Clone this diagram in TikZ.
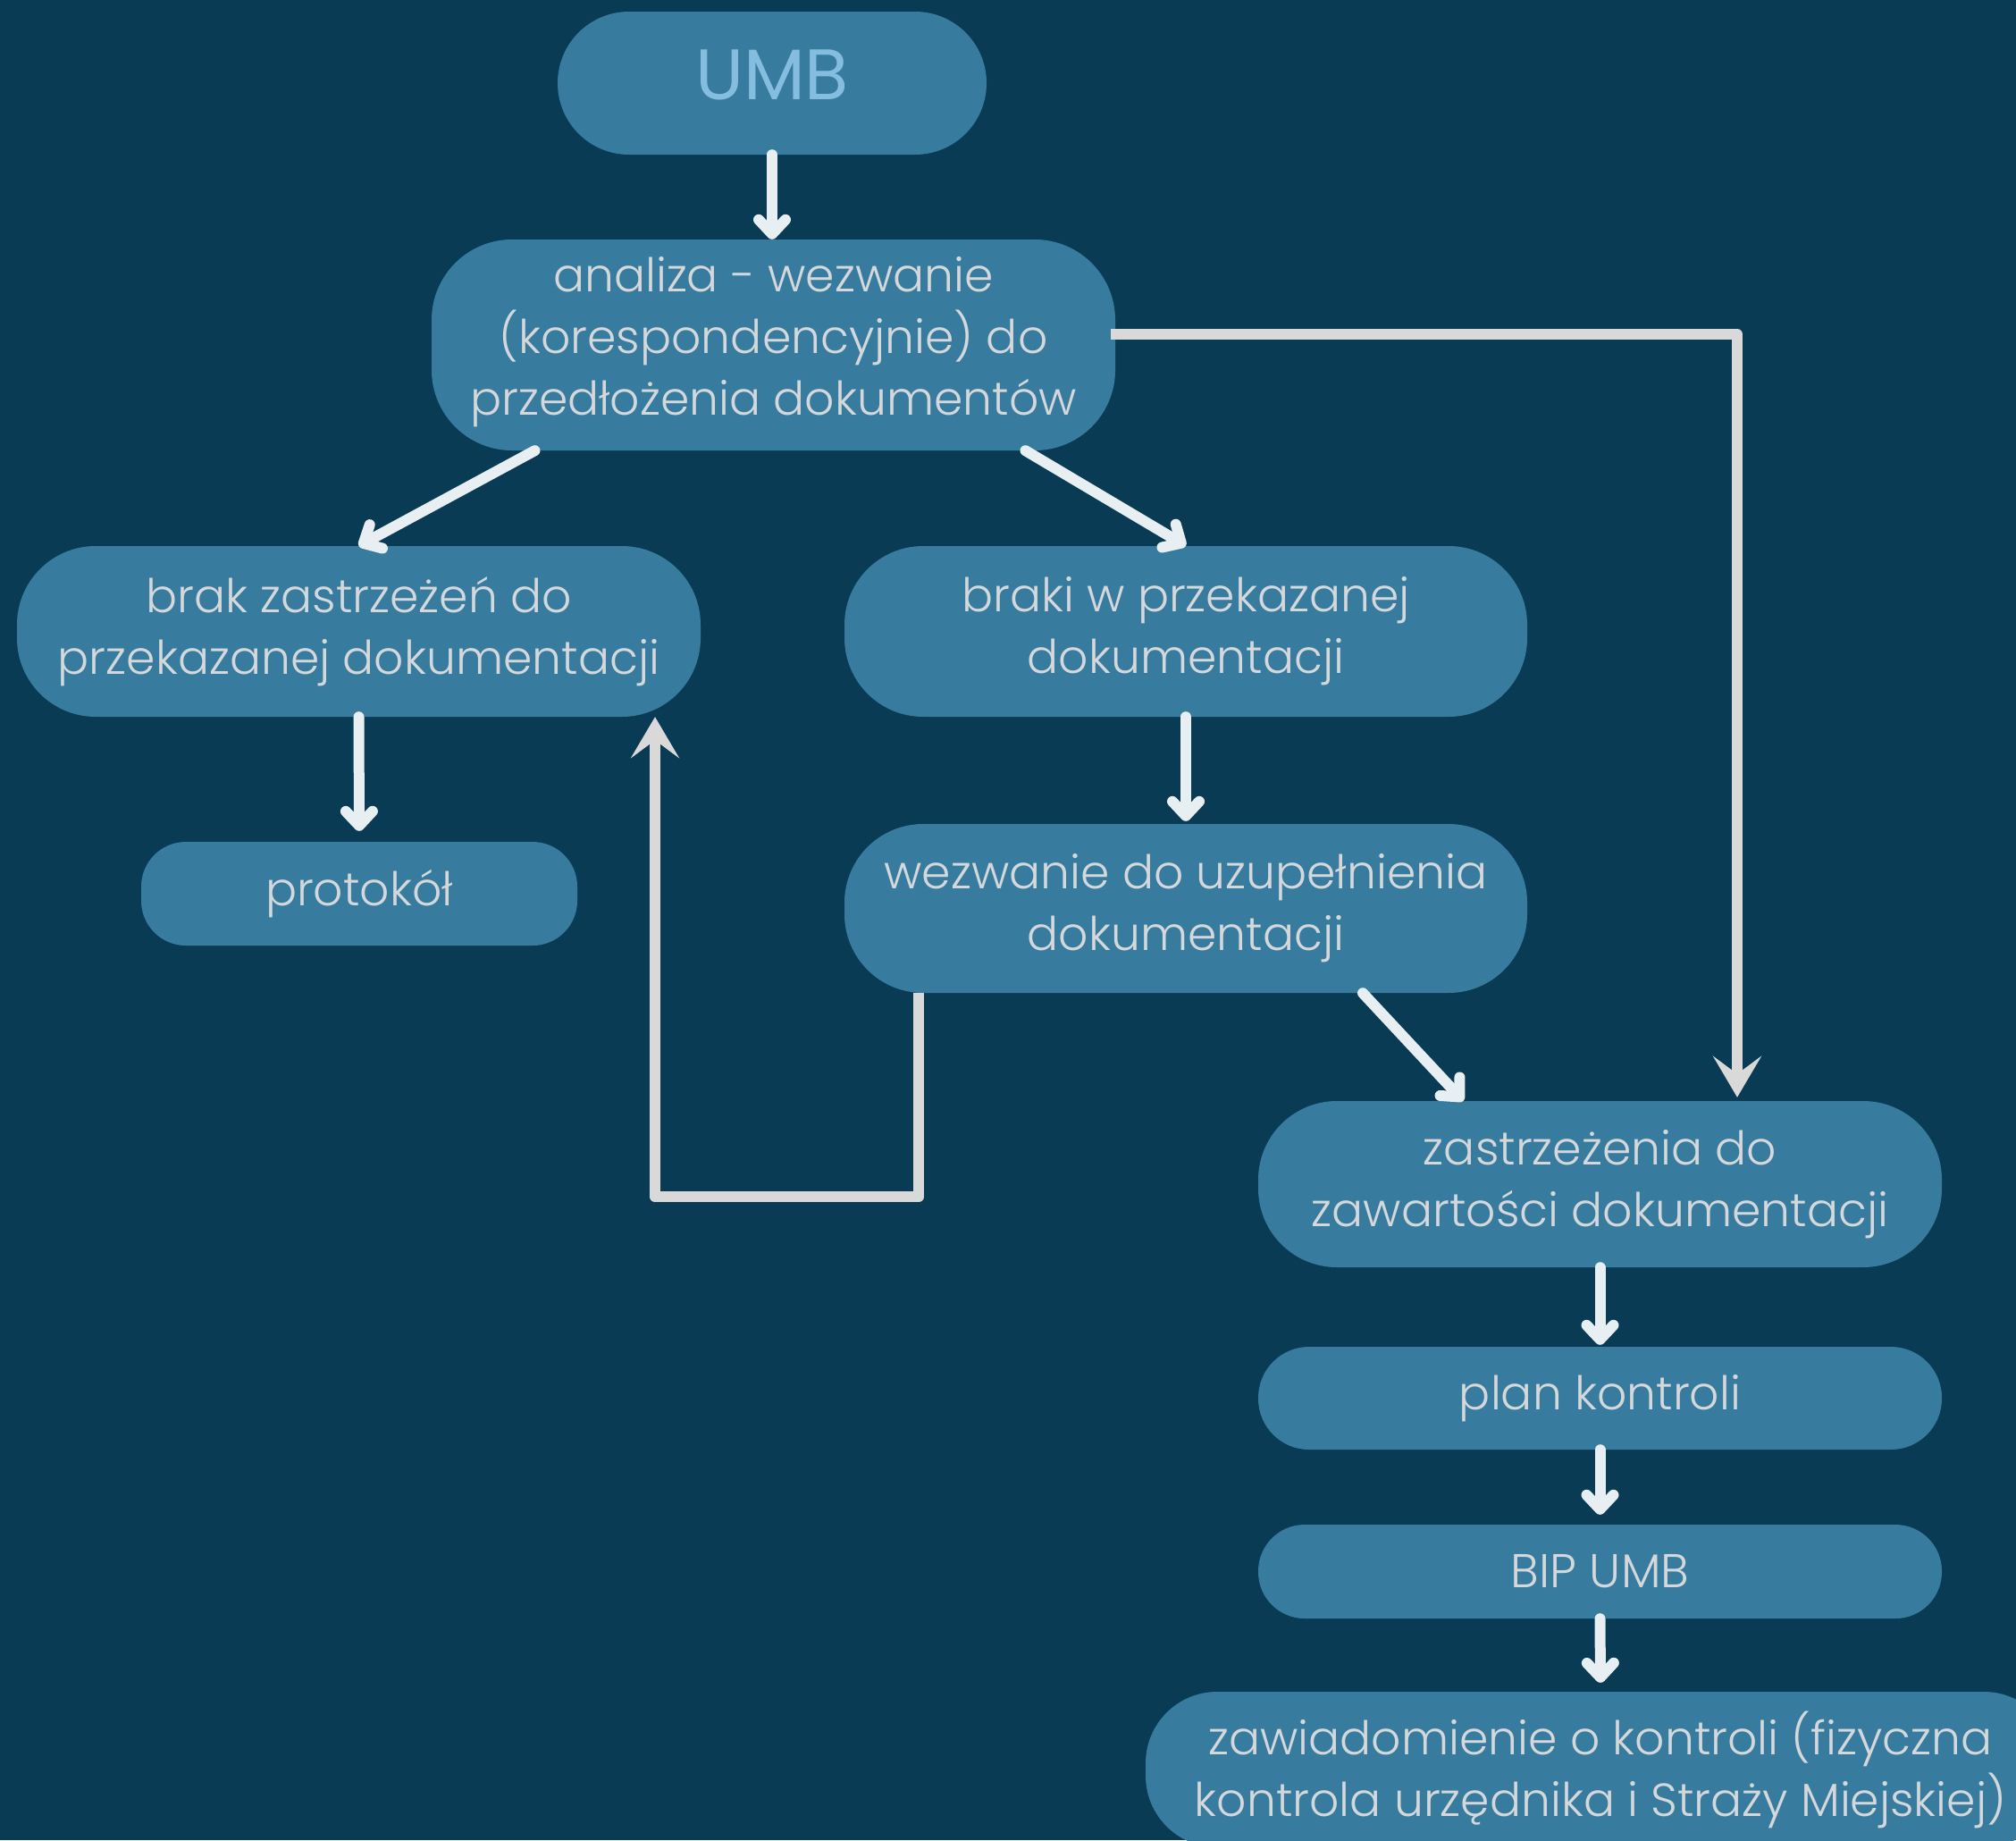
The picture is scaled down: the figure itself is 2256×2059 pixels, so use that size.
\documentclass[tikz,border=0pt]{standalone}
\usepackage{fontspec}
\IfFontExistsTF{Poppins Light}{\setmainfont{Poppins Light}}{%
  \IfFontExistsTF{Poppins-Light}{\setmainfont{Poppins-Light}}{\setmainfont{Poppins}}}
\newfontfamily\umbfont{Poppins}
\usetikzlibrary{arrows.meta}
\definecolor{bg}{HTML}{0A3B54}
\definecolor{nodefill}{HTML}{377C9F}
\definecolor{txt}{HTML}{D4D8DB}
\definecolor{umbtxt}{HTML}{85BDDF}
\definecolor{arrw}{HTML}{E8EFF2}
\definecolor{gline}{HTML}{D9D9D9}
\tikzset{
  box/.style={fill=nodefill, text=txt, align=center, inner sep=0pt,
    font=\fontsize{52}{69}\selectfont},
  warrow/.style={draw=arrw, line width=12pt, line cap=round,
    -{Straight Barb[length=16pt,width=30pt,line cap=round,line join=round]}},
  garrow/.style={draw=gline, line width=12pt, line join=round,
    -{Stealth[length=46pt,width=54pt,inset=20pt]}},
}
\begin{document}
\begin{tikzpicture}[x=1pt,y=-1pt]
\useasboundingbox (0,0) rectangle (2256,2059);
\clip (0,0) rectangle (2256,2059);
\fill[bg] (0,0) rectangle (2256,2059);

\node[box, minimum width=480pt, minimum height=160pt, rounded corners=80pt,
  text=umbtxt, font=\umbfont\fontsize{80}{80}\selectfont, text depth=19pt] (umb) at (864,93) {UMB};
\node[box, minimum width=765pt, minimum height=236pt, rounded corners=90pt, text depth=20pt] (analiza) at (865.5,386)
  {analiza - wezwanie\\(korespondencyjnie) do\\przedłożenia dokumentów};
\node[box, minimum width=765pt, minimum height=191pt, rounded corners=88pt] (brak) at (401.5,706.5)
  {brak zastrzeżeń do\\przekazanej dokumentacji};
\node[box, minimum width=764pt, minimum height=191pt, rounded corners=88pt] (braki) at (1327,706.5)
  {braki w przekazanej\\dokumentacji};
\node[box, minimum width=488pt, minimum height=116pt, rounded corners=50pt] (protokol) at (402,1000)
  {protokół};
\node[box, minimum width=764pt, minimum height=189pt, rounded corners=88pt] (wezwanie) at (1327,1016.5)
  {wezwanie do uzupełnienia\\dokumentacji};
\node[box, minimum width=765pt, minimum height=186pt, rounded corners=88pt] (zastrz) at (1790.5,1325)
  {zastrzeżenia do\\zawartości dokumentacji};
\node[box, minimum width=765pt, minimum height=115pt, rounded corners=57pt] (plan) at (1790.5,1564.5)
  {plan kontroli};
\node[box, minimum width=765pt, minimum height=105pt, rounded corners=52pt,
  font=\fontsize{53}{60}\selectfont] (bip) at (1790.5,1758.5) {BIP UMB};
\node[box, minimum width=1018pt, minimum height=174pt, rounded corners=80pt] (zaw) at (1791,1980)
  {zawiadomienie o kontroli (fizyczna\\kontrola urzędnika i Straży Miejskiej)};

\draw[warrow] (umb.south) -- (umb.south |- analiza.north);
\draw[warrow] ([xshift=-267pt]analiza.south) -- (brak.north);
\draw[warrow] ([xshift=282pt]analiza.south) -- (braki.north);
\draw[warrow] (brak.south) -- ([yshift=12pt]protokol.north);
\draw[warrow] (braki.south) -- ([yshift=3pt]wezwanie.north);
\draw[warrow] ([xshift=198pt]wezwanie.south) -- ([xshift=-153pt]zastrz.north);
\draw[warrow] (zastrz.south) -- ([yshift=2pt]plan.north);
\draw[warrow] (plan.south) -- ([yshift=11pt]bip.north);
\draw[warrow] (bip.south) -- ([yshift=10pt]zaw.north);

\draw[garrow] ([xshift=-5pt,yshift=12pt]analiza.east) -| ([xshift=153.5pt,yshift=4pt]zastrz.north);
\draw[garrow] ([xshift=-299pt]wezwanie.south) -- ++(0,228) -| ([xshift=331.5pt]brak.south);
\end{tikzpicture}
\end{document}
